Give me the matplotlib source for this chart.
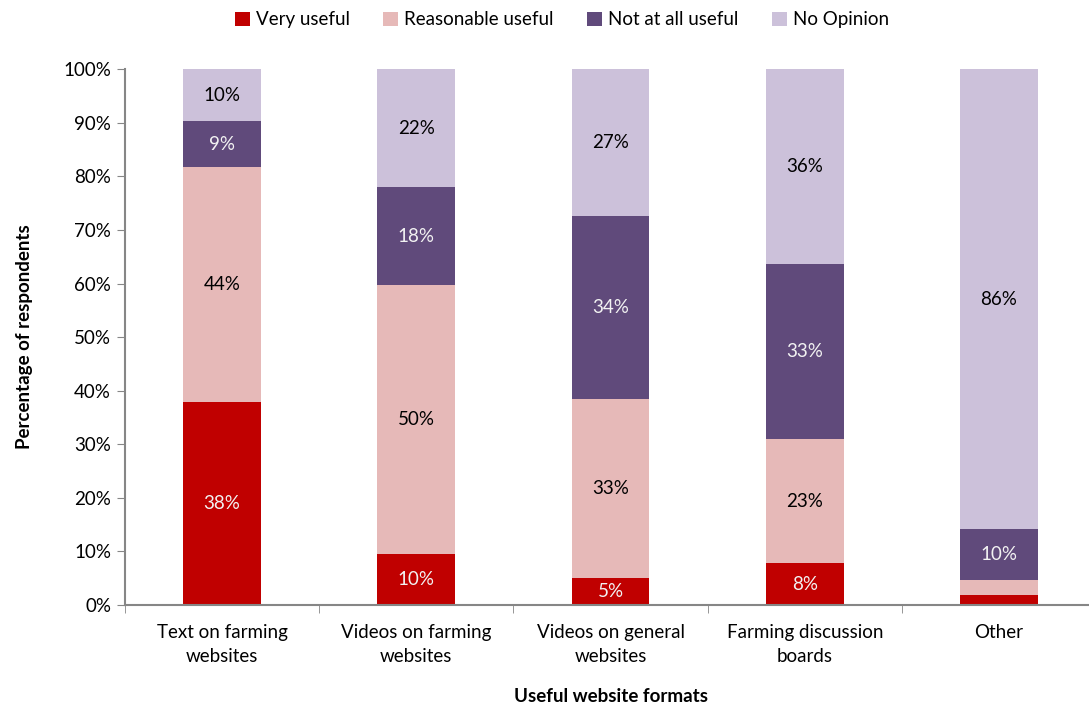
import numpy as np
import matplotlib.pyplot as plt
from matplotlib.ticker import PercentFormatter, FixedLocator

plt.rcParams['font.family'] = ['Lato', 'DejaVu Sans']

categories = ["Text on farming\nwebsites", "Videos on farming\nwebsites",
              "Videos on general\nwebsites", "Farming discussion\nboards", "Other"]
series_names = ["Very useful", "Reasonable useful", "Not at all useful", "No Opinion"]
very_useful = [37.9, 9.5, 5.0, 7.8, 1.9]
reasonable_useful = [43.8, 50.2, 33.4, 23.1, 2.8]
not_useful = [8.6, 18.3, 34.2, 32.7, 9.5]
no_opinion = [9.7, 22.0, 27.4, 36.4, 85.8]

colors = ["#C00000", "#E6B9B8", "#604A7B", "#CCC1DA"]
label_colors = ["#F2F2F2", "black", "#F2F2F2", "black"]
fs = 13.5

fig = plt.figure(figsize=(10.89, 7.06), dpi=100)
ax = fig.add_axes([0.1148, 0.143, 0.8917, 0.759])

x = np.arange(len(categories))
bottom = np.zeros(len(categories))
for name, vals, col, lc in zip(series_names,
                               [very_useful, reasonable_useful, not_useful, no_opinion],
                               colors, label_colors):
    vals = np.array(vals)
    ax.bar(x, vals, 0.4, bottom=bottom, color=col, label=name)
    for xi, b, v in zip(x, bottom, vals):
        if v >= 4:
            ax.text(xi, b + v / 2, f"{v:.0f}%", ha="center", va="center",
                    fontsize=fs, color=lc)
    bottom += vals

ax.set_xlim(-0.5, len(categories) - 0.5)
ax.set_ylim(0, 100)
ax.yaxis.set_major_locator(FixedLocator(np.arange(0, 101, 10)))
ax.yaxis.set_major_formatter(PercentFormatter(decimals=0))
ax.set_xticks(x)
ax.set_xticklabels(categories, fontsize=fs, linespacing=1.5)
ax.set_xticks(np.arange(-0.5, len(categories), 1), minor=True)
ax.tick_params(axis="x", which="major", length=0, pad=14)
ax.tick_params(axis="x", which="minor", length=6, color="#868686")
ax.tick_params(axis="y", length=6, color="#868686", labelsize=fs, pad=4)

for s in ["top", "right"]:
    ax.spines[s].set_visible(False)
for s in ["left", "bottom"]:
    ax.spines[s].set_color("#868686")
    ax.spines[s].set_linewidth(1.5)

ax.set_xlabel("Useful website formats", fontsize=fs, fontweight="bold", labelpad=16)
ax.set_ylabel("Percentage of respondents", fontsize=fs, fontweight="bold", labelpad=22)

fig.legend(loc="upper center", bbox_to_anchor=(0.516, 1.008), ncol=4, frameon=False,
           fontsize=fs, handlelength=0.8, handleheight=0.8, handletextpad=0.3,
           columnspacing=1.8)

plt.savefig("out.png", dpi=100)
